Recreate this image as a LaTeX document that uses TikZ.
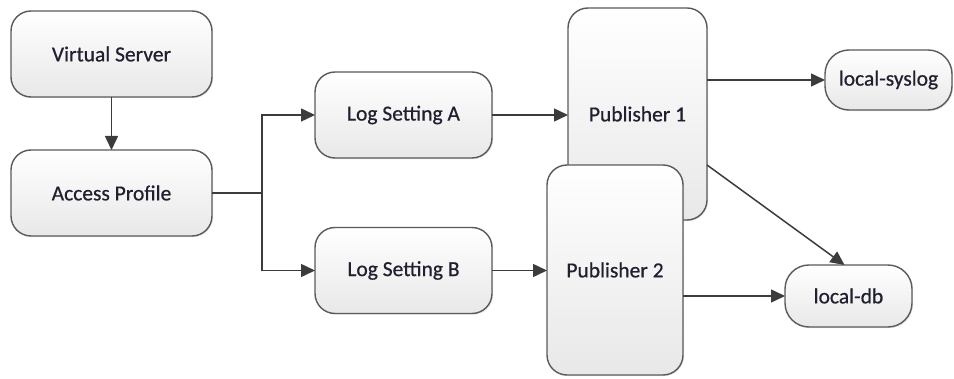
\documentclass[tikz,border=0pt]{standalone}
\usepackage{fontspec}
\setmainfont{Carlito}
\newfontface\boxfont{Carlito}[FakeBold=0.6]
\usetikzlibrary{arrows.meta,calc,shadows}
\definecolor{boxline}{HTML}{5A5A5A}
\definecolor{arrowline}{HTML}{3C3C3C}
\definecolor{txt}{HTML}{202030}
\tikzset{
  box/.style={draw=boxline, line width=1.4pt, rounded corners=20pt,
    top color=white, bottom color=black!9, inner sep=0pt, outer sep=0pt,
    drop shadow={opacity=0.18, shadow xshift=1.2pt, shadow yshift=-1.2pt},
    text=txt, font=\boxfont\fontsize{21.5}{25}\selectfont, align=center},
  pill/.style={box, rounded corners=24pt},
  conn/.style={draw=arrowline, line width=1.5pt},
  arr/.style={conn, -{Triangle[length=14pt,width=13pt]}}
}
\begin{document}
\begin{tikzpicture}[x=1pt,y=-1pt]
\useasboundingbox (0,0) rectangle (954,379);
\node[box, minimum width=201pt, minimum height=86pt] (vs) at (111.5,54) {Virtual Server};
\node[box, minimum width=201pt, minimum height=86pt] (ap) at (111.5,193) {Access Profile};
\node[box, minimum width=177pt, minimum height=86pt] (la) at (403.5,115) {Log Setting A};
\node[box, minimum width=177pt, minimum height=86pt] (lb) at (403.5,270.5) {Log Setting B};
\node[box, minimum width=139pt, minimum height=212pt] (p1) at (637.5,114) {Publisher 1};
\node[box, minimum width=136pt, minimum height=210pt] (p2) at (615,270) {Publisher 2};
\node[pill, minimum width=127pt, minimum height=60pt] (ls) at (888.5,80) {local-syslog};
\node[pill, minimum width=127pt, minimum height=62pt] (ldb) at (848.5,296) {local-db};
\coordinate (j) at (262,193);
\draw[arr] (vs.south) -- (ap.north);
\draw[conn] (ap.east) -- (j);
\draw[arr] (j) |- (la.west);
\draw[arr] (j) |- (lb.west);
\draw[arr] (la.east) -- (la.east -| p1.west);
\draw[arr] (lb.east) -- (lb.east -| p2.west);
\draw[arr] (p1.east |- ls.west) -- (ls.west);
\draw[arr] ([yshift=-51pt]p1.east) -- ([xshift=-4pt]ldb.north);
\draw[arr] (p2.east |- ldb.west) -- (ldb.west);
\end{tikzpicture}
\end{document}
